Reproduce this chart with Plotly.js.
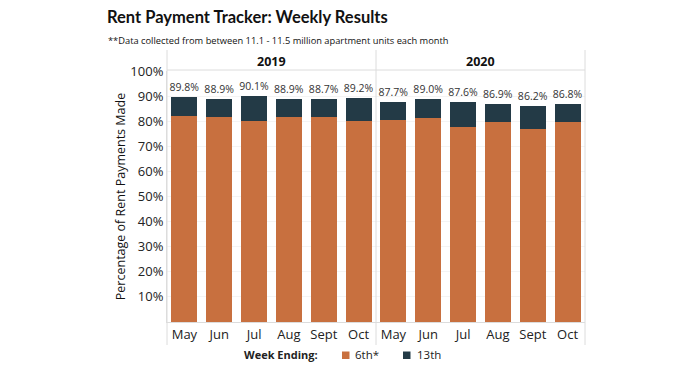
<!DOCTYPE html>
<html><head><meta charset="utf-8">
<script src="https://cdn.plot.ly/plotly-3.0.1.min.js"></script>
<style>html,body{margin:0;padding:0;background:#fff}#c{width:696px;height:365px}</style>
</head><body><div id="c"></div>
<script>
const years = ['2019', '2020'];
const months = ['May', 'Jun', 'Jul', 'Aug', 'Sept', 'Oct'];
const sixth2019 = [82.1, 81.8, 80.1, 81.5, 81.5, 80.0];
const total2019 = [89.8, 88.9, 90.1, 88.9, 88.7, 89.2];
const sixth2020 = [80.5, 81.3, 77.8, 79.6, 76.8, 79.8];
const total2020 = [87.7, 89.0, 87.6, 86.9, 86.2, 86.8];
const yTicks = [10, 20, 30, 40, 50, 60, 70, 80, 90, 100];
const seriesNames = ['6th*', '13th'];

const orange = '#c8703f', dark = '#233a46';
const fontFam = '"Open Sans", "Noto Sans", sans-serif';
const sixths = [sixth2019, sixth2020];
const totals = [total2019, total2020];
const traces = [];
years.forEach((yr, i) => {
  const xa = i === 0 ? 'x' : 'x2';
  traces.push({
    type: 'bar', x: months, y: sixths[i], name: seriesNames[0], xaxis: xa, yaxis: 'y',
    marker: {color: orange}, showlegend: false, hoverinfo: 'skip'
  });
  traces.push({
    type: 'bar', x: months, y: totals[i].map((t, k) => +(t - sixths[i][k]).toFixed(1)),
    name: seriesNames[1], xaxis: xa, yaxis: 'y',
    marker: {color: dark}, showlegend: false, hoverinfo: 'skip',
    text: totals[i].map(v => v.toFixed(1) + '%'), textposition: 'outside', cliponaxis: false,
    constraintext: 'none',
    textfont: {size: 10.5, color: '#333', family: fontFam}
  });
});

const lineCol = '#dcdcdc';
const xCommon = {
  type: 'category', showgrid: false, zeroline: false, showline: true, linecolor: lineCol,
  ticks: '', tickfont: {size: 13, color: '#222', family: fontFam}, fixedrange: true
};
// paper coordinate helpers for the decorative layout (plot box 167..585 x 71..322 px)
const px = X => (X - 167) / 418;
const py = Y => (322 - Y) / 251;

const legendColors = [orange, dark];
const legendSwatchX = [342, 403];
const legendTextX = [353, 415];

const layout = {
  width: 696, height: 365,
  margin: {l: 167, r: 111, t: 71, b: 43, autoexpand: false},
  paper_bgcolor: '#fff', plot_bgcolor: '#fff',
  barmode: 'stack', bargap: 0.25,
  font: {family: fontFam, color: '#222'},
  title: {
    text: 'Rent Payment Tracker: Weekly Results',
    font: {size: 16.5, color: '#111', family: 'Lato, "Open Sans", sans-serif', weight: 700},
    xref: 'container', yref: 'container', x: 107 / 696, xanchor: 'left', y: 1 - 17 / 365, yanchor: 'middle'
  },
  xaxis: Object.assign({}, xCommon, {domain: [0, 0.5], anchor: 'y'}),
  xaxis2: Object.assign({}, xCommon, {domain: [0.5, 1], anchor: 'y'}),
  yaxis: {
    range: [0, 100], tickvals: yTicks, ticktext: yTicks.map(v => v + '%'),
    showgrid: true, gridcolor: '#f4f4f4', zeroline: false, showline: true, linecolor: lineCol,
    ticks: '', tickfont: {size: 13, color: '#222', family: fontFam}, fixedrange: true,
    title: {text: 'Percentage of Rent Payments Made', font: {size: 12.5, color: '#111', family: fontFam}, standoff: 1}
  },
  showlegend: false,
  annotations: [
    {text: '**Data collected from between 11.1 - 11.5 million apartment units each month',
     xref: 'paper', yref: 'paper', x: px(106), xanchor: 'left', y: py(40), yanchor: 'middle',
     showarrow: false, font: {size: 9.3, color: '#111', family: fontFam}},
    {text: '<b>Week Ending:</b>', xref: 'paper', yref: 'paper', x: px(320), xanchor: 'right', y: py(355), yanchor: 'middle',
     showarrow: false, font: {size: 11, color: '#222', family: fontFam}}
  ].concat(years.map((yr, i) => ({
     text: '<b>' + yr + '</b>', xref: 'paper', yref: 'paper', x: 0.25 + 0.5 * i, y: py(61),
     xanchor: 'center', yanchor: 'middle', showarrow: false, font: {size: 12.5, color: '#111', family: fontFam}
  }))).concat(seriesNames.map((n, i) => ({
     text: n, xref: 'paper', yref: 'paper', x: px(legendTextX[i]), xanchor: 'left', y: py(355), yanchor: 'middle',
     showarrow: false, font: {size: 11.5, color: '#222', family: fontFam}
  }))),
  shapes: [
    {type: 'line', xref: 'paper', yref: 'paper', x0: 0, x1: 1, y0: py(70), y1: py(70), line: {color: lineCol, width: 1}},
    {type: 'line', xref: 'paper', yref: 'paper', x0: 0, x1: 0, y0: py(345), y1: py(50), line: {color: lineCol, width: 1}},
    {type: 'line', xref: 'paper', yref: 'paper', x0: 0.5, x1: 0.5, y0: py(345), y1: py(50), line: {color: lineCol, width: 1}},
    {type: 'line', xref: 'paper', yref: 'paper', x0: 1, x1: 1, y0: py(345), y1: py(50), line: {color: lineCol, width: 1}}
  ].concat(legendColors.map((c, i) => ({
    type: 'rect', xref: 'paper', yref: 'paper', x0: px(legendSwatchX[i]), x1: px(legendSwatchX[i] + 7.5),
    y0: py(359), y1: py(351.5), fillcolor: c, line: {width: 0}
  })))
};
Plotly.newPlot('c', traces, layout, {displayModeBar: false, staticPlot: true});
</script></body></html>
